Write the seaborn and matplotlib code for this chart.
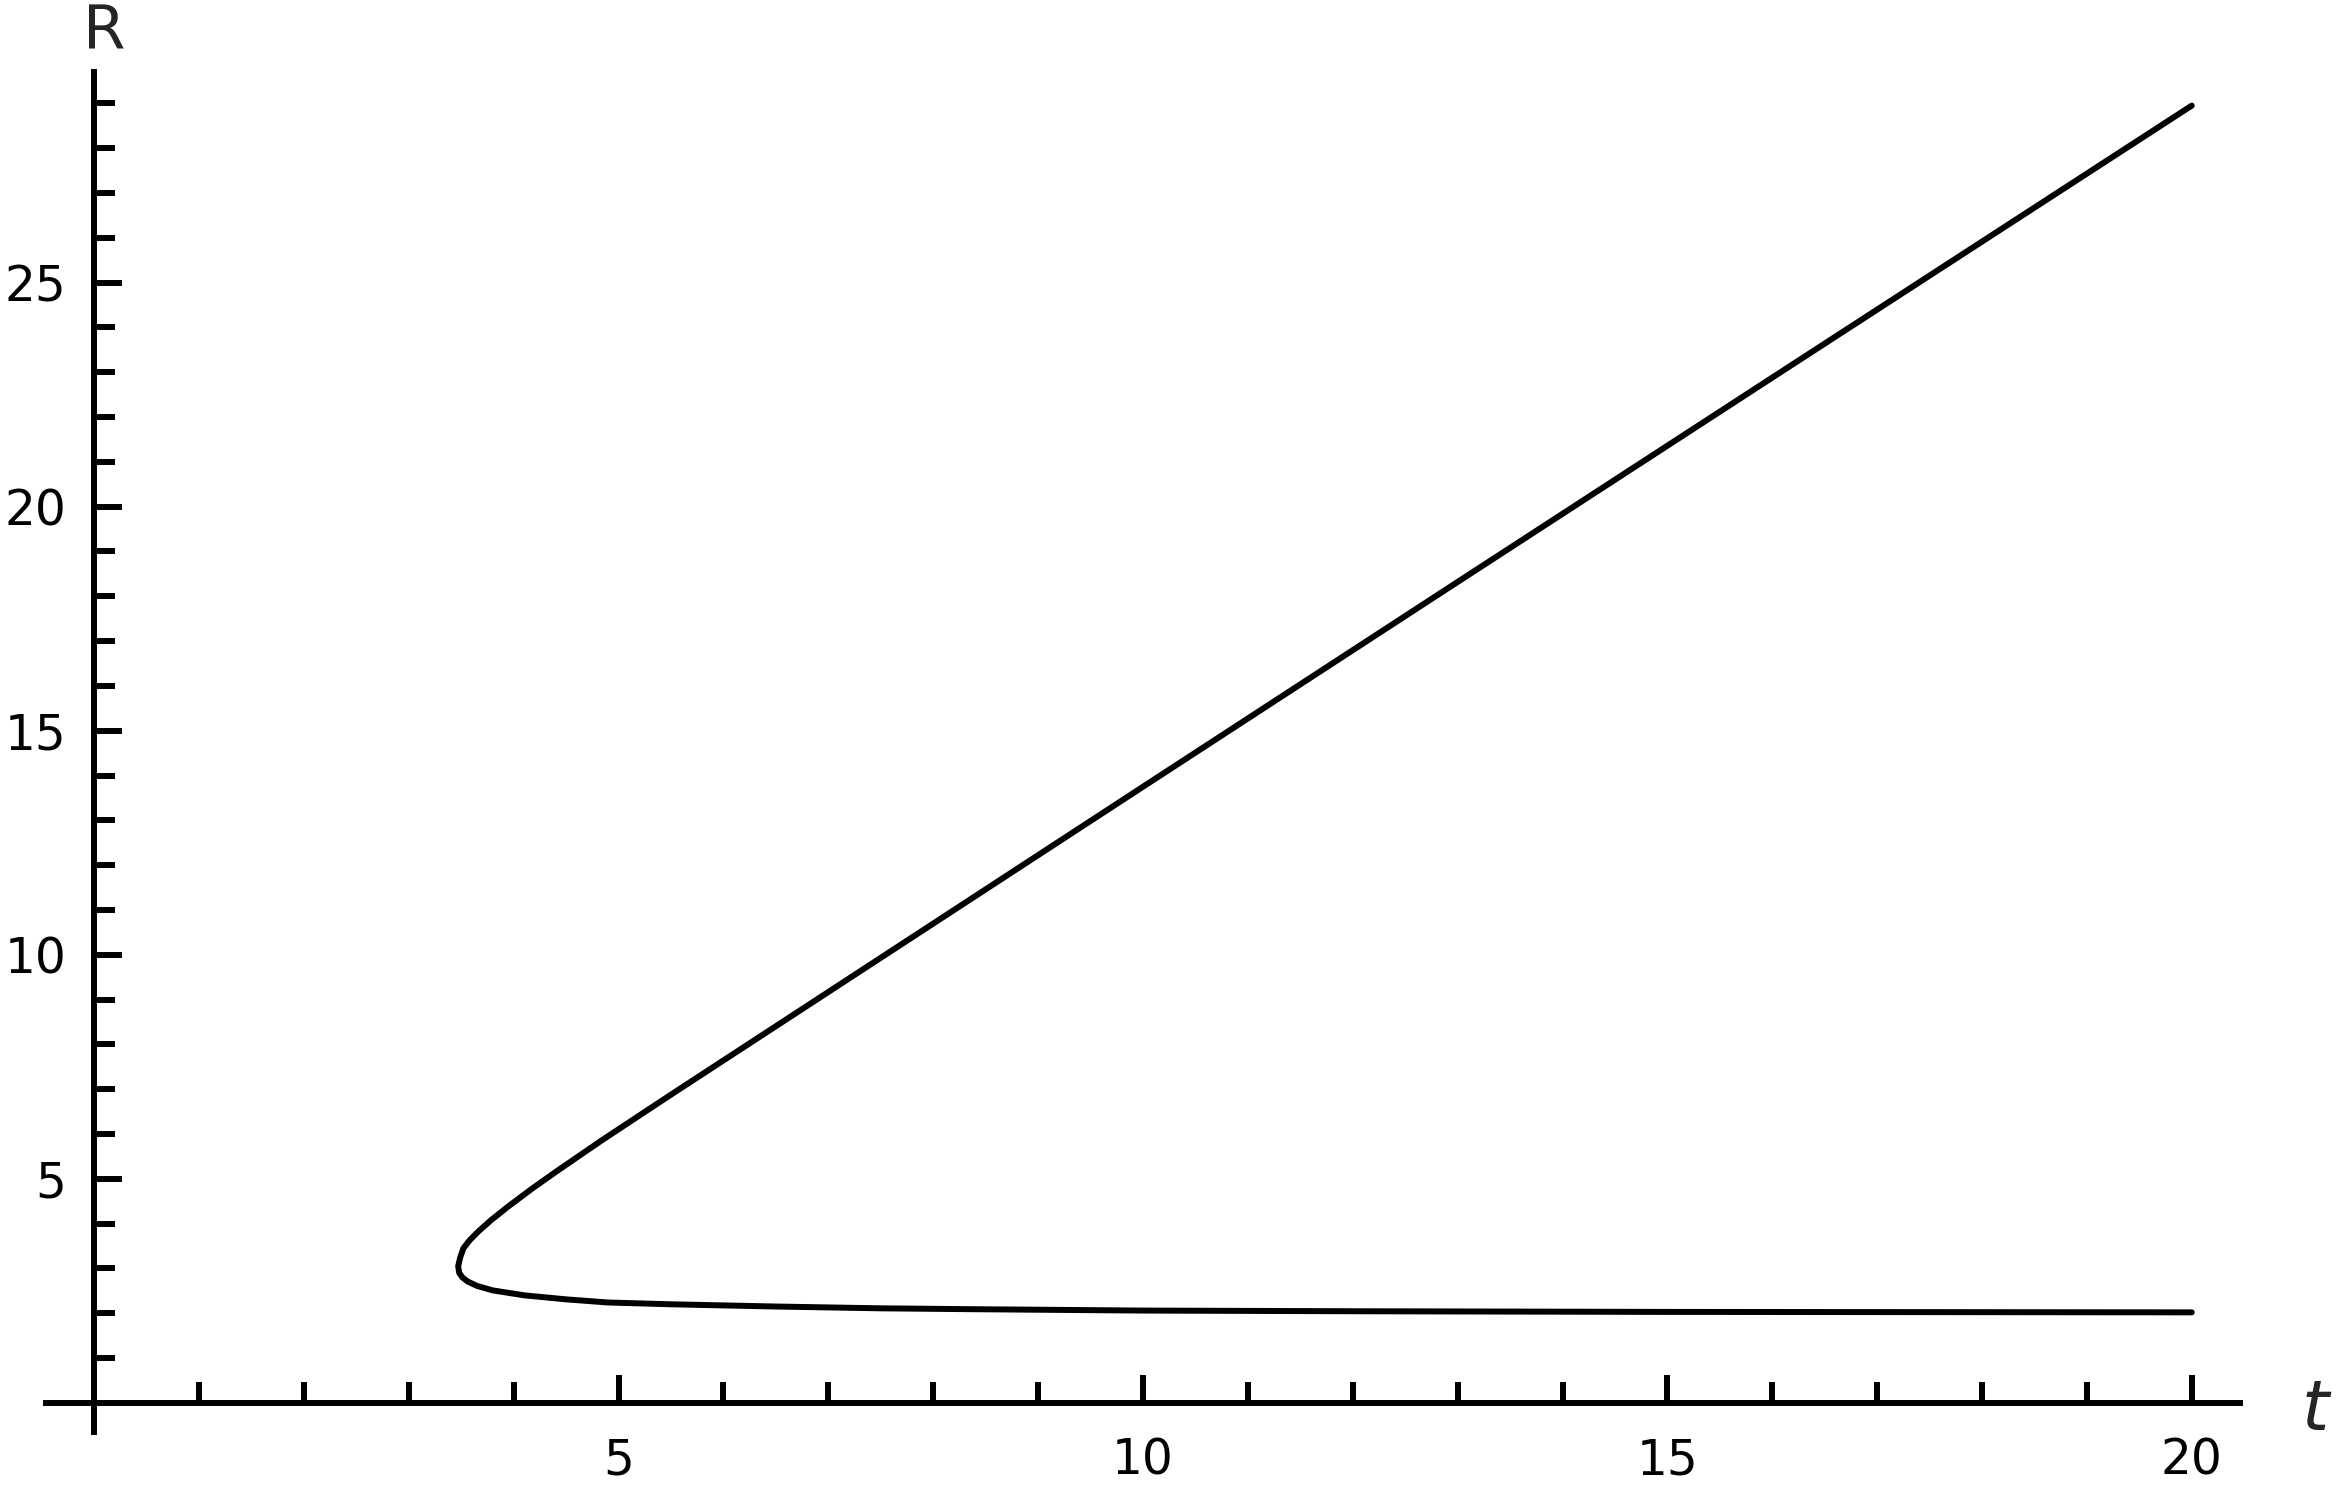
import matplotlib
matplotlib.use("Agg")
import matplotlib.pyplot as plt
from matplotlib import font_manager
from matplotlib.ticker import FixedLocator, NullFormatter
import seaborn as sns
import pandas as pd

# ---- data (parametric curve R vs t) ----
upper_t = [20.0, 16.0, 13.0, 10.0, 7.0, 5.5, 4.84, 4.41, 4.18, 3.94, 3.78, 3.66, 3.58, 3.52, 3.49, 3.47]
upper_R = [28.95, 22.88, 18.32, 13.75, 9.17, 6.88, 5.86, 5.17, 4.79, 4.37, 4.07, 3.82, 3.63, 3.45, 3.25, 3.05]
lower_t = [3.48, 3.51, 3.56, 3.65, 3.8, 4.1, 4.5, 4.9, 5.5, 6.5, 7.5, 8.4, 10.0, 12.0, 15.0, 20.0]
lower_R = [2.9, 2.8, 2.71, 2.61, 2.51, 2.4, 2.31, 2.24, 2.2, 2.15, 2.11, 2.09, 2.06, 2.045, 2.03, 2.02]

x_major = [5, 10, 15, 20]
x_minor = [1, 2, 3, 4, 6, 7, 8, 9, 11, 12, 13, 14, 16, 17, 18, 19]
y_major = [5, 10, 15, 20, 25]
y_minor = [1, 2, 3, 4, 6, 7, 8, 9, 11, 12, 13, 14, 16, 17, 18, 19,
           21, 22, 23, 24, 26, 27, 28, 29]
x_label = "t"
y_label = "R"

df = pd.DataFrame({"t": upper_t + lower_t, "R": upper_R + lower_R})

sns.set_theme(style="white")
avail = {f.name for f in font_manager.fontManager.ttflist}
family = "DejaVu Sans"
for cand in ["DejaVu Sans Condensed", "Liberation Sans Narrow", "DejaVu Sans"]:
    if cand in avail:
        family = cand
        break
plt.rcParams["font.family"] = [family]

fig = plt.figure(figsize=(23.52, 14.94), dpi=100)
ax = fig.add_axes([46 / 2352, 1 - 1432 / 1494, 2194 / 2352, 1360 / 1494])

sns.lineplot(data=df, x="t", y="R", sort=False, estimator=None,
             color="black", linewidth=4.3, ax=ax)

ax.set_xlim(-0.46, 20.46)
ax.set_ylim(-0.65, 29.7)

for side in ["top", "right"]:
    ax.spines[side].set_visible(False)
ax.spines["left"].set_position(("data", 0))
ax.spines["bottom"].set_position(("data", 0))
for side in ["left", "bottom"]:
    ax.spines[side].set_linewidth(4.3)
    ax.spines[side].set_color("black")

ax.xaxis.set_major_locator(FixedLocator(x_major))
ax.xaxis.set_minor_locator(FixedLocator(x_minor))
ax.yaxis.set_major_locator(FixedLocator(y_major))
ax.yaxis.set_minor_locator(FixedLocator(y_minor))
ax.xaxis.set_minor_formatter(NullFormatter())
ax.yaxis.set_minor_formatter(NullFormatter())
ax.set_xticklabels([str(v) for v in x_major])
ax.set_yticklabels([str(v) for v in y_major])

ax.tick_params(axis="both", which="both", direction="in", width=4.3,
               color="black", labelcolor="black", labelsize=35,
               bottom=True, left=True, top=False, right=False)
ax.tick_params(axis="both", which="major", length=20.5)
ax.tick_params(axis="both", which="minor", length=15)
ax.tick_params(axis="x", which="major", pad=24)
ax.tick_params(axis="y", which="major", pad=20)

ax.set_xlabel(x_label, fontsize=50, fontstyle="italic", ha="center", va="center")
ax.xaxis.set_label_coords((2315 - 46) / 2194, (1432 - 1410) / 1360)
ax.set_ylabel(y_label, fontsize=44, rotation=0, ha="center", va="center")
ax.yaxis.set_label_coords((104 - 46) / 2194, (1432 - 33) / 1360)

ax.grid(False)
ax.set_facecolor("white")
fig.patch.set_facecolor("white")

fig.savefig("out.png", dpi=100, facecolor="white")
